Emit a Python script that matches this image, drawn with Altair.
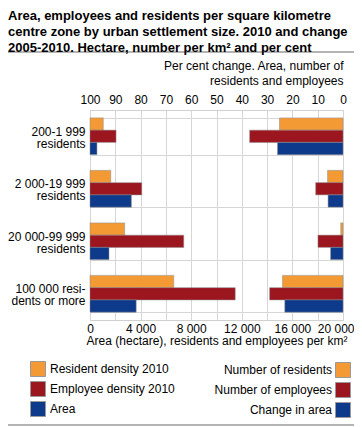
import altair as alt
import pandas as pd

# ---- data ----
groups = ["200-1 999|residents", "2 000-19 999|residents",
          "20 000-99 999|residents", "100 000 resi-|dents or more"]

density_series = ["Resident density 2010", "Employee density 2010", "Area"]
resident_density = [1050, 1640, 2740, 6620]
employee_density = [2060, 4090, 7410, 11480]
area_hectare = [550, 3270, 1500, 3650]

change_series = ["Number of residents", "Number of employees", "Change in area"]
change_residents = [25.1, 6.1, 0.9, 23.9]
change_employees = [36.9, 10.8, 9.9, 29.0]
change_area = [25.9, 5.9, 4.9, 23.0]

colors = ["#f39a35", "#9c1620", "#0e3a8b"]
x_ticks = list(range(0, 20001, 2000))
pct_ticks = list(range(0, 101, 10))

title_lines = ["Area, employees and residents per square kilometre",
               "centre zone by urban settlement size. 2010 and change",
               "2005-2010. Hectare, number per km\u00b2 and per cent"]

left_df = pd.DataFrame([
    {"group": g, "series": s, "value": v}
    for s, vals in zip(density_series, [resident_density, employee_density, area_hectare])
    for g, v in zip(groups, vals)
])
right_df = pd.DataFrame([
    {"group": g, "series": s, "pct": v}
    for s, vals in zip(change_series, [change_residents, change_employees, change_area])
    for g, v in zip(groups, vals)
])
rule_df = pd.DataFrame({"line": ["separator"]})

FONT = "Liberation Sans"
GRID = "#d6d6d6"

y_enc = alt.Y(
    "group:N", sort=groups,
    scale=alt.Scale(paddingInner=0.3, paddingOuter=0.15),
    axis=alt.Axis(title=None, labelExpr="split(datum.label, '|')",
                  labelFontSize=12, labelLineHeight=12, labelPadding=5,
                  labelOffset=-5,
                  ticks=False, domain=False, grid=True, tickBand="extent",
                  gridColor=GRID, labelColor="#000", labelFont=FONT),
)

legend_common = dict(orient="none", title=None, symbolType="square", symbolSize=225,
                     symbolStrokeColor="#999", symbolStrokeWidth=1,
                     labelFontSize=12, labelFont=FONT, labelColor="#000",
                     rowPadding=0, padding=0)

left = alt.Chart(left_df).mark_bar(stroke="#8a8a8a", strokeWidth=0.5).encode(
    x=alt.X("value:Q",
            scale=alt.Scale(domain=[0, 20000], nice=False),
            axis=alt.Axis(orient="bottom", values=x_ticks,
                          labelExpr="datum.value % 4000 == 0 ? replace(format(datum.value, ','), ',', ' ') : ''",
                          labelAlign={"condition": {"test": "datum.value == 20000", "value": "right"},
                                      "value": "center"},
                          labelOffset={"condition": {"test": "datum.value == 20000", "value": 11},
                                       "value": 0},
                          title="Area (hectare), residents and employees per km\u00b2",
                          grid=True, gridColor=GRID, ticks=False, domain=False,
                          labelPadding=3, titlePadding=1, labelFlush=False,
                          labelOverlap=False, labelFontSize=12, labelFont=FONT,
                          labelColor="#000", titleFontSize=12, titleFont=FONT,
                          titleFontWeight="normal", titleColor="#000")),
    y=y_enc,
    yOffset=alt.YOffset("series:N", sort=density_series,
                        scale=alt.Scale(paddingInner=0, paddingOuter=0)),
    color=alt.Color("series:N", sort=density_series,
                    scale=alt.Scale(domain=density_series, range=colors),
                    legend=alt.Legend(legendX=-60, legendY=251, labelOffset=4,
                                      **legend_common)),
)

right = alt.Chart(right_df).mark_bar(stroke="#8a8a8a", strokeWidth=0.5).encode(
    x=alt.X("pct:Q",
            scale=alt.Scale(domain=[0, 100], reverse=True, nice=False),
            axis=alt.Axis(orient="top", values=pct_ticks, format="d",
                          grid=False, ticks=False, domain=False, labelPadding=4,
                          labelFlush=False, labelFontSize=12, labelFont=FONT,
                          labelColor="#000",
                          title=["Per cent change. Area, number of",
                                 "residents and employees"],
                          titleAnchor="start", titleAlign="right",
                          titleFontWeight="normal", titleFontSize=12,
                          titleFont=FONT, titleColor="#000",
                          titleLineHeight=15, titlePadding=6)),
    y=y_enc,
    yOffset=alt.YOffset("series:N", sort=change_series,
                        scale=alt.Scale(paddingInner=0, paddingOuter=0)),
    color=alt.Color("series:N", sort=change_series,
                    scale=alt.Scale(domain=change_series, range=colors),
                    legend=alt.Legend(legendX=245, legendY=252,
                                      labelOffset={"expr": "-19"}, labelAlign="right",
                                      **legend_common)),
)

rule_top = alt.Chart(rule_df).mark_rule(color="#b4b4b4", strokeWidth=2).encode(
    x=alt.value(-90), x2=alt.value(272), y=alt.value(-58))
rule_bottom = alt.Chart(rule_df).mark_rule(color="#b4b4b4", strokeWidth=2).encode(
    x=alt.value(-90), x2=alt.value(272), y=alt.value(315))

chart = alt.layer(left, right, rule_top, rule_bottom).resolve_scale(
    x="independent", color="independent", yOffset="independent"
).properties(
    width=253, height=210,
    autosize=alt.AutoSizeParams(type="none"),
    padding={"left": 82, "top": 102, "right": 11, "bottom": 107},
    title=alt.TitleParams(text=title_lines, anchor="start", frame="group",
                          dx=-82, dy=8, fontSize=13, font=FONT, fontWeight="bold",
                          lineHeight=16, offset=4, color="#000"),
).configure_view(stroke="#d0d0d0")

chart.save("out.html", embed_options={"renderer": "svg", "actions": False})
